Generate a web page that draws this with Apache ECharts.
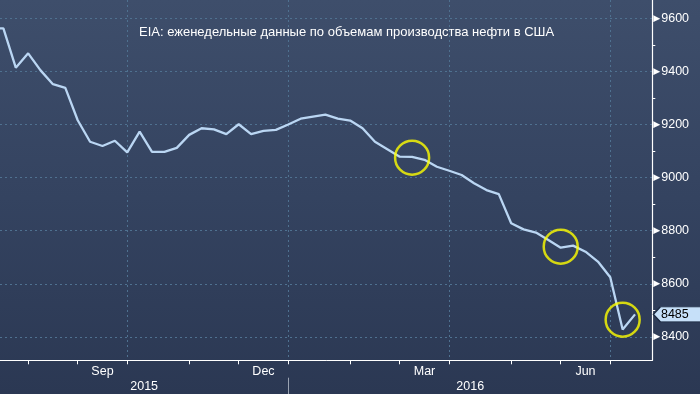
<!DOCTYPE html>
<html>
<head>
<meta charset="utf-8">
<script src="https://cdn.jsdelivr.net/npm/echarts@6/dist/echarts.min.js"></script>
<style>
html,body{margin:0;padding:0;background:#2c3a55;}
#chart{width:700px;height:394px;}
</style>
</head>
<body>
<div id="chart"></div>
<script>
// Weekly US crude oil production (thousand bbl/day), EIA; first week partly cut off at left edge
const weeks = ['2015-07-10','2015-07-17','2015-07-24','2015-07-31','2015-08-07','2015-08-14','2015-08-21','2015-08-28',
  '2015-09-04','2015-09-11','2015-09-18','2015-09-25','2015-10-02','2015-10-09','2015-10-16','2015-10-23','2015-10-30',
  '2015-11-06','2015-11-13','2015-11-20','2015-11-27','2015-12-04','2015-12-11','2015-12-18','2015-12-25',
  '2016-01-01','2016-01-08','2016-01-15','2016-01-22','2016-01-29','2016-02-05','2016-02-12','2016-02-19','2016-02-26',
  '2016-03-04','2016-03-11','2016-03-18','2016-03-25','2016-04-01','2016-04-08','2016-04-15','2016-04-22','2016-04-29',
  '2016-05-06','2016-05-13','2016-05-20','2016-05-27','2016-06-03','2016-06-10','2016-06-17','2016-06-24','2016-07-01','2016-07-08'];
const production = [9562, 9562, 9414, 9468, 9404, 9352, 9338, 9216, 9135, 9119, 9139, 9095, 9173, 9097, 9097, 9112,
  9161, 9186, 9182, 9164, 9201, 9164, 9176, 9180, 9200, 9222, 9230, 9237, 9222, 9215, 9186, 9135, 9107, 9079,
  9078, 9067, 9041, 9026, 9010, 8979, 8953, 8938, 8828, 8805, 8793, 8765, 8736, 8744, 8721, 8684, 8625, 8428, 8485];
const lastValue = 8485;
// Highlight circles [week index, value]
const highlights = [[34, 9075], [46, 8740], [51, 8465]];
// Axis ticks / labels (week indices)
const monthTicks = [3, 7, 11, 16, 20, 24, 29, 33, 37, 42, 46, 50];
const quarterTicks = [11, 24, 37, 50];
const monthLabelPos = [9, 22, 35, 48];
const monthLabels = ['Sep', 'Dec', 'Mar', 'Jun'];
const yearBreak = 24;
const yearLabels = ['2015', '2016'];
const yTicks = [8400, 8600, 8800, 9000, 9200, 9400, 9600];
const yMinorTicks = [8500, 8700, 8900, 9100, 9300, 9500];
const titleText = 'EIA: еженедельные данные по объемам производства нефти в США';

const xMin = 0.7255, xMax = 53.394;
const yMin = 8312, yMax = 9669;
const yearLabelPos = [(xMin + yearBreak) / 2, (yearBreak + xMax) / 2];

const FONT = 'Liberation Sans';
const gridLine = { color: '#4f7190', width: 1, type: [2, 3] };

const chart = echarts.init(document.getElementById('chart'), null, { renderer: 'canvas' });
const option = {
  animation: false,
  backgroundColor: new echarts.graphic.LinearGradient(0, 0, 0, 1, [
    { offset: 0, color: '#3e4e6b' },
    { offset: 0.5, color: '#344360' },
    { offset: 1, color: '#2b3853' }
  ]),
  title: {
    text: titleText,
    left: 139, top: 26, padding: 0,
    textStyle: { color: '#ffffff', fontSize: 13, fontWeight: 'normal', fontFamily: FONT, lineHeight: 13 }
  },
  grid: { left: 0, right: 47.7, top: 0, bottom: 33.7, containLabel: false },
  xAxis: [
    {
      type: 'value', min: xMin, max: xMax, position: 'bottom',
      axisLine: { show: true, onZero: false, lineStyle: { color: '#ffffff', width: 1 } },
      axisTick: { show: true, customValues: monthTicks, length: 4, lineStyle: { color: '#ffffff', width: 1 } },
      axisLabel: {
        show: true, customValues: monthLabelPos, margin: 5, color: '#ffffff', fontSize: 12.5, fontFamily: FONT,
        formatter: v => monthLabels[monthLabelPos.indexOf(v)] || ''
      },
      splitLine: { show: false }
    },
    {
      type: 'value', min: xMin, max: xMax, position: 'bottom',
      axisLine: { show: false },
      axisTick: { show: false, customValues: quarterTicks },
      axisLabel: { show: false },
      splitLine: { show: true, lineStyle: gridLine }
    },
    {
      type: 'value', min: xMin, max: xMax, position: 'bottom', offset: 17.4,
      axisLine: { show: false },
      axisTick: { show: true, customValues: [yearBreak], length: 17, lineStyle: { color: '#9aa3b2', width: 1 } },
      axisLabel: {
        show: true, customValues: yearLabelPos, margin: 2, color: '#ffffff', fontSize: 12.5, fontFamily: FONT,
        formatter: v => yearLabels[yearLabelPos.indexOf(v)] || ''
      },
      splitLine: { show: false }
    }
  ],
  yAxis: [
    {
      type: 'value', min: yMin, max: yMax, position: 'right',
      axisLine: { show: true, onZero: false, lineStyle: { color: '#ffffff', width: 1.2 } },
      axisTick: { show: false, customValues: yTicks },
      axisLabel: {
        show: true, customValues: yTicks, margin: 1,
        formatter: v => '{t|▶}{v|' + v + '}',
        rich: {
          t: { fontSize: 9, fontFamily: 'DejaVu Sans', color: '#ffffff', padding: [0, 1, 0, 0] },
          v: { fontSize: 12.5, fontFamily: FONT, color: '#ffffff' }
        }
      },
      splitLine: { show: true, lineStyle: gridLine }
    },
    {
      type: 'value', min: yMin, max: yMax, position: 'right',
      axisLine: { show: false },
      axisTick: { show: true, customValues: yMinorTicks, length: 3, lineStyle: { color: '#ffffff', width: 1 } },
      axisLabel: { show: false },
      splitLine: { show: false }
    }
  ],
  series: [
    {
      type: 'line',
      xAxisIndex: 0, yAxisIndex: 0,
      data: production.map((v, i) => [i, v]),
      symbol: 'none',
      lineStyle: { color: '#bad6f3', width: 2.3 },
      clip: true,
      z: 3,
      markPoint: {
        symbol: 'path://M0,7.5 L7,0 L48,0 L48,15 L7,15 Z',
        symbolSize: [48, 15],
        symbolKeepAspect: false,
        symbolOffset: [42.3, 0],
        itemStyle: { color: '#c6e0f9', borderColor: '#1c2a42', borderWidth: 1 },
        label: {
          show: true, position: 'inside', offset: [-2.5, 0],
          color: '#000000', fontSize: 12.5, fontFamily: FONT,
          formatter: p => String(p.value)
        },
        data: [{ coord: [production.length - 1, lastValue], value: lastValue }]
      }
    },
    {
      type: 'scatter',
      xAxisIndex: 0, yAxisIndex: 0,
      data: highlights,
      symbol: 'circle',
      symbolSize: 34,
      itemStyle: { color: 'rgba(0,0,0,0)', borderColor: '#ffff00', borderWidth: 2.5 },
      z: 4,
      silent: true
    }
  ]
};
chart.setOption(option);
</script>
</body>
</html>
